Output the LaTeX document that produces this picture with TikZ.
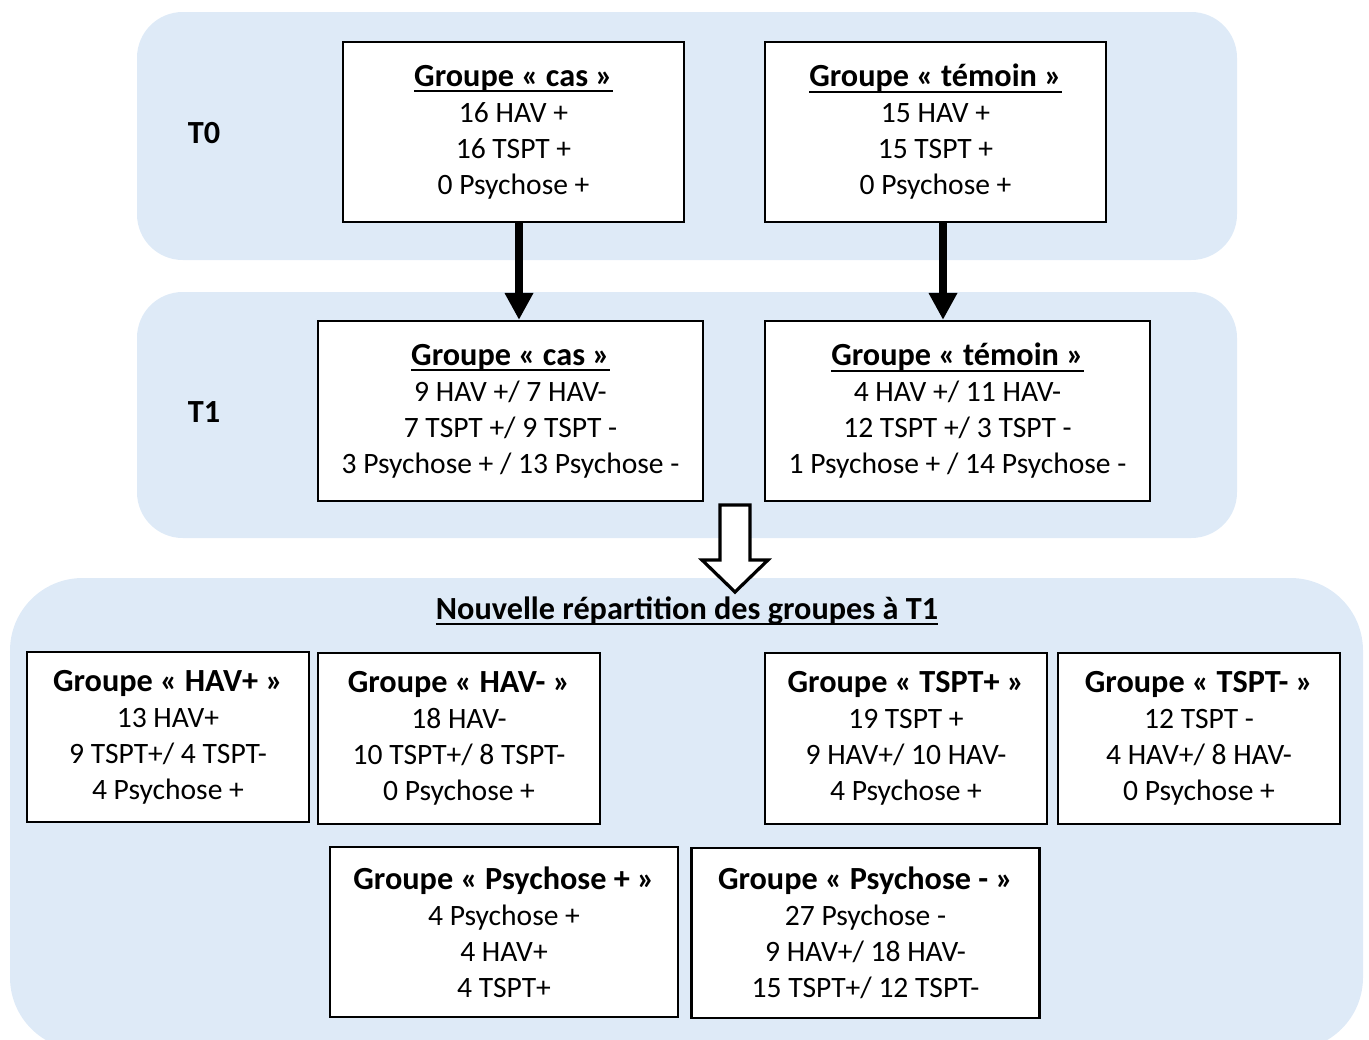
\documentclass[tikz,border=0pt]{standalone}
\usepackage{fontspec}
\setmainfont{Carlito}
\usetikzlibrary{arrows.meta,positioning,calc}
\definecolor{panelblue}{RGB}{222,234,247}
\tikzset{>={Triangle[length=10pt,width=10pt]}}
\tikzset{
  panel/.style={fill=panelblue,draw=none,rounded corners=17pt},
  grpbox/.style={draw=black,line width=0.8pt,fill=white,align=center,inner sep=0pt,
    font=\fontsize{11}{13.4}\selectfont},
  topbox/.style={grpbox,minimum width=127pt,minimum height=67pt},
  midbox/.style={grpbox,minimum width=143pt,minimum height=67pt},
  lowbox/.style={grpbox,minimum width=105pt,minimum height=63.5pt},
  psybox/.style={grpbox,minimum width=129.5pt,minimum height=63pt},
  timelbl/.style={font=\fontsize{12}{14}\selectfont\bfseries}
}
\newsavebox{\ulbox}
\newcommand{\ulined}[1]{\leavevmode\sbox{\ulbox}{#1}\rlap{\rule[-2.3pt]{\wd\ulbox}{0.9pt}}\usebox{\ulbox}}
\newcommand{\grphead}[1]{{\fontsize{12}{13.4}\selectfont\bfseries #1}}
\newcommand{\grptitle}[1]{\grphead{\ulined{#1}}}

\begin{document}
\begin{tikzpicture}[x=0.372pt,y=-0.372pt]

\useasboundingbox (0,0) rectangle (1369,1040);

% fonds
\begin{scope}
\clip (0,0) rectangle (1369,1040);
\fill[panel] (137,12) rectangle (1237,260);
\fill[panel] (137,292) rectangle (1237,538);
\fill[panel,rounded corners=27pt] (10,578) rectangle (1363,1050);
\end{scope}

\node [timelbl] (t0) at (204,133) {T0};
\node [timelbl] (t1) at (204,412) {T1};

% T0
\node [topbox] (cas0) at (513.5,132) {\grptitle{Groupe « cas »}\\16 HAV +\\16 TSPT +\\0 Psychose +};
\node [topbox] (tem0) at (935.5,132) {\grptitle{Groupe « témoin »}\\15 HAV +\\15 TSPT +\\0 Psychose +};

% T1
\node [midbox] (cas1) at (510.5,411) {\grptitle{Groupe « cas »}\\9 HAV +/ 7 HAV-\\7 TSPT +/ 9 TSPT -\\3 Psychose + / 13 Psychose -};
\node [midbox] (tem1) at (957.5,411) {\grptitle{Groupe « témoin »}\\4 HAV +/ 11 HAV-\\12 TSPT +/ 3 TSPT -\\1 Psychose + / 14 Psychose -};

\begin{scope}[line width=3pt]
\draw[->] (cas0.south -| 519,0) to (cas1.north -| 519,0);
\draw[->] (tem0.south -| 943,0) to (tem1.north -| 943,0);
\end{scope}

% fleche creuse
\coordinate (hollow) at (735,505);
\draw[line width=1.2pt,fill=white,line join=miter]
  ($(hollow)+(-15,0)$) -- ($(hollow)+(15,0)$) -- ($(hollow)+(15,55)$) -- ($(hollow)+(33,55)$)
  -- ($(hollow)+(0,87)$) -- ($(hollow)+(-33,55)$) -- ($(hollow)+(-15,55)$) -- cycle;

\node [timelbl] (titre) at (687,611) {\ulined{Nouvelle répartition des groupes à T1}};

% nouveaux groupes
\node [lowbox] (havp) at (168,737) {\grphead{Groupe « HAV+ »}\\13 HAV+\\9 TSPT+/ 4 TSPT-\\4 Psychose +};
\node [lowbox] (havm) at (459,738.5) {\grphead{Groupe « HAV- »}\\18 HAV-\\10 TSPT+/ 8 TSPT-\\0 Psychose +};
\node [lowbox] (tsptp) at (906,738.5) {\grphead{Groupe « TSPT+ »}\\19 TSPT +\\9 HAV+/ 10 HAV-\\4 Psychose +};
\node [lowbox] (tsptm) at (1199,738.5) {\grphead{Groupe « TSPT- »}\\12 TSPT -\\4 HAV+/ 8 HAV-\\0 Psychose +};
\node [psybox] (psyp) at (504,932) {\grphead{Groupe « Psychose + »}\\4 Psychose +\\4 HAV+\\4 TSPT+};
\node [psybox] (psym) at (865.5,933) {\grphead{Groupe « Psychose - »}\\27 Psychose -\\9 HAV+/ 18 HAV-\\15 TSPT+/ 12 TSPT-};

\end{tikzpicture}
\end{document}
